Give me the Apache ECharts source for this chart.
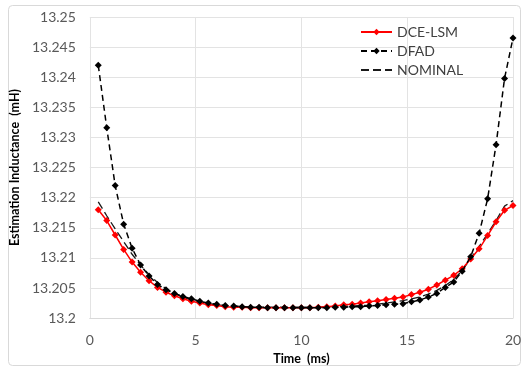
<!DOCTYPE html>
<html>
<head>
<meta charset="utf-8">
<script src="https://cdn.jsdelivr.net/npm/echarts@6/dist/echarts.min.js"></script>
<style>html,body{margin:0;padding:0;background:#fff}#c{width:525px;height:370px}</style>
</head>
<body>
<div id="c"></div>
<script>
var time = [0.4,0.8,1.2,1.6,2.0,2.4,2.8,3.2,3.6,4.0,4.4,4.8,5.2,5.6,6.0,6.4,6.8,7.2,7.6,8.0,8.4,8.8,9.2,9.6,10.0,10.4,10.8,11.2,11.6,12.0,12.4,12.8,13.2,13.6,14.0,14.4,14.8,15.2,15.6,16.0,16.4,16.8,17.2,17.6,18.0,18.4,18.8,19.2,19.6,20.0];
var dceLsm = [13.2180,13.2162,13.2138,13.2114,13.2093,13.2076,13.2062,13.2051,13.2043,13.2037,13.2032,13.2028,13.2025,13.2022,13.2021,13.2019,13.2018,13.2018,13.2017,13.2017,13.2017,13.2017,13.2017,13.2017,13.2017,13.2017,13.2018,13.2019,13.2020,13.2022,13.2023,13.2025,13.2027,13.2029,13.2031,13.2033,13.2035,13.2039,13.2043,13.2048,13.2055,13.2063,13.2071,13.2082,13.2098,13.2115,13.2137,13.2160,13.2179,13.2187];
var dfad = [13.2420,13.2316,13.2220,13.2156,13.2116,13.2088,13.2070,13.2056,13.2047,13.2041,13.2036,13.2032,13.2028,13.2025,13.2023,13.2021,13.2020,13.2019,13.2018,13.2018,13.2017,13.2017,13.2017,13.2017,13.2017,13.2017,13.2017,13.2017,13.2018,13.2018,13.2019,13.2019,13.2020,13.2021,13.2022,13.2023,13.2024,13.2027,13.2030,13.2035,13.2041,13.2051,13.2060,13.2078,13.2102,13.2141,13.2198,13.2288,13.2398,13.2465];
var nominal = [13.2193,13.2170,13.2148,13.2127,13.2106,13.2088,13.2072,13.2059,13.2049,13.2041,13.2035,13.2030,13.2027,13.2024,13.2022,13.2021,13.2020,13.2019,13.2018,13.2018,13.2018,13.2018,13.2018,13.2018,13.2018,13.2018,13.2018,13.2019,13.2019,13.2020,13.2020,13.2021,13.2021,13.2023,13.2025,13.2027,13.2029,13.2032,13.2035,13.2040,13.2046,13.2054,13.2064,13.2079,13.2099,13.2119,13.2140,13.2162,13.2186,13.2195];
var seriesNames = ['DCE-LSM','DFAD','NOMINAL'];
var xTitle = 'Time  (ms)';
var yTitle = 'Estimation Inductance  (mH)';

function pairs(arr){ return arr.map(function(v,i){ return [time[i], v]; }); }

var chart = echarts.init(document.getElementById('c'), null, {renderer:'canvas'});
var font = 'Lato, "Open Sans", sans-serif';
chart.setOption({
  animation:false,
  backgroundColor:'#fff',
  graphic:[{type:'rect', shape:{x:8.5,y:5.5,width:512,height:360,r:4}, style:{fill:'none', stroke:'#d9d9d9', lineWidth:1}, z:-1}],
  grid:{left:85, right:12, top:17, bottom:51},
  legend:{
    orient:'vertical', left:355, top:20, itemWidth:31, itemHeight:8, itemGap:5,
    textStyle:{fontFamily:font, fontSize:14, color:'#404040'},
    data:[{name:seriesNames[0]},{name:seriesNames[1]},{name:seriesNames[2], itemStyle:{opacity:0}}]
  },
  xAxis:{
    type:'value', min:0, max:20, interval:5,
    name:xTitle, nameLocation:'middle', nameGap:27,
    nameTextStyle:{fontFamily:font, fontWeight:'bold', fontSize:12.5, color:'#000'},
    axisLine:{show:true, lineStyle:{color:'#d9d9d9'}},
    axisTick:{show:false},
    axisLabel:{fontFamily:font, fontSize:14, color:'#595959', margin:15},
    splitLine:{show:true, lineStyle:{color:'#e3e3e3'}}
  },
  yAxis:{
    type:'value', min:13.2, max:13.25, interval:0.005,
    name:yTitle, nameLocation:'middle', nameGap:64, nameRotate:90,
    nameTextStyle:{fontFamily:font, fontWeight:'bold', fontSize:12.5, color:'#000'},
    axisLine:{show:false}, axisTick:{show:false},
    axisLabel:{fontFamily:font, fontSize:14, color:'#595959', margin:14,
      formatter:function(v){ return String(parseFloat(v.toFixed(3))); }},
    splitLine:{show:true, lineStyle:{color:'#e3e3e3'}}
  },
  series:[
    {name:seriesNames[2], type:'line', data:pairs(nominal), showSymbol:false, symbol:'none', z:1,
     lineStyle:{color:'#1a1a1a', width:1.3, type:[8,4]}, itemStyle:{color:'#1a1a1a'}},
    {name:seriesNames[0], type:'line', data:pairs(dceLsm), symbol:'diamond', symbolSize:7, z:2,
     lineStyle:{color:'#ff0000', width:1.5}, itemStyle:{color:'#ff0000'}},
    {name:seriesNames[1], type:'line', data:pairs(dfad), symbol:'diamond', symbolSize:7, z:3,
     lineStyle:{color:'#000', width:1.5, type:[6,4]}, itemStyle:{color:'#000'}}
  ]
});
</script>
</body>
</html>
